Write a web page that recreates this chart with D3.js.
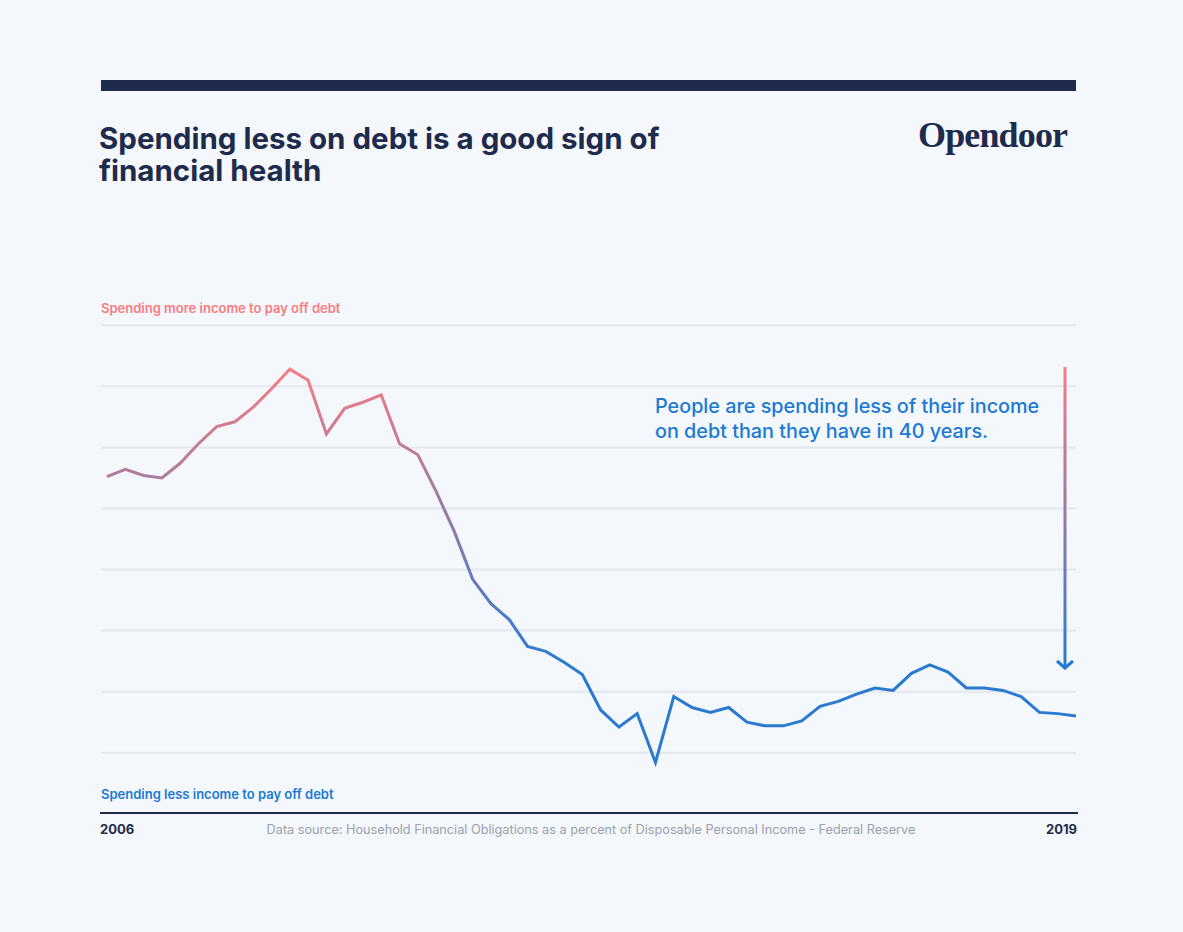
<!DOCTYPE html>
<html lang="en">
<head>
<meta charset="utf-8">
<title>Spending less on debt</title>
<script src="https://d3js.org/d3.v7.min.js"></script>
<style>
    body {
        margin: 0;
        background-color: #f4f7fb;
    }
    svg text {
        font-family: Inter, "Noto Sans", sans-serif;
    }
    .grid line {
        stroke: #e3e7ee;
        stroke-width: 2px;
    }
</style>
</head>
<body>
<svg id=chart width=1183 height=932></svg>
<script>
// household debt service, % of disposable income, quarterly 2006Q1 - 2019Q2
var startYear = 2006, endYear = 2019;
var ratio = [
    17.26, 17.32, 17.27, 17.25, 17.37, 17.53, 17.67, 17.71, 17.83, 17.98,
    18.14, 18.05, 17.61, 17.82, 17.87, 17.93, 17.53, 17.44, 17.14, 16.81,
    16.42, 16.22, 16.09, 15.87, 15.83, 15.74, 15.64, 15.35, 15.21, 15.32,
    14.92, 15.46, 15.37, 15.33, 15.37, 15.25, 15.22, 15.22, 15.26, 15.38,
    15.42, 15.48, 15.53, 15.51, 15.65, 15.72, 15.66, 15.53, 15.53, 15.51,
    15.46, 15.33, 15.32, 15.30
];
var gridVals = [15, 15.5, 16, 16.5, 17, 17.5, 18, 18.5];

var title = ["Spending less on debt is a good sign of", "financial health"];
var note = ["People are spending less of their income", "on debt than they have in 40 years."];
var topLabel = "Spending more income to pay off debt";
var bottomLabel = "Spending less income to pay off debt";
var source = "Data source: Household Financial Obligations as a percent of Disposable Personal Income - Federal Reserve";

var navy = "#1e2b4c", pink = "#fb7c80", blue = "#1a7ad4";

var svg = d3.select("#chart");

var x = d3.scaleLinear().domain([0, ratio.length - 1]).range([107, 1076]);
var y = d3.scaleLinear().domain([15, 18.5]).range([752.7, 325.3]);

// gradient shared by the line and the arrow
var defs = svg.append("defs");
var grad = defs.append("linearGradient")
    .attr("id", "pinkBlue")
    .attr("gradientUnits", "userSpaceOnUse")
    .attr("x1", 0).attr("x2", 0)
    .attr("y1", 365).attr("y2", 665);
grad.append("stop").attr("offset", "0%").attr("stop-color", pink);
grad.append("stop").attr("offset", "100%").attr("stop-color", "#2a7bd0");

// top bar
svg.append("rect")
    .attr("x", 101).attr("y", 80)
    .attr("width", 975).attr("height", 11)
    .attr("fill", navy);

// title
svg.append("text")
    .attr("x", 99).attr("y", 149)
    .attr("fill", navy)
    .style("font-size", "29.5px")
    .style("font-weight", 700)
    .selectAll("tspan").data(title).join("tspan")
    .attr("x", 99)
    .attr("dy", (d, i) => i ? 32 : 0)
    .text(d => d);

// logo
svg.append("text")
    .attr("x", 1068).attr("y", 147)
    .attr("text-anchor", "end")
    .attr("fill", navy)
    .attr("textLength", 150)
    .style("font-family", "'Liberation Serif', serif")
    .style("font-size", "36px")
    .style("font-weight", 700)
    .text("Opendoor");

// grid
svg.append("g").attr("class", "grid")
    .selectAll("line").data(gridVals).join("line")
    .attr("x1", 101).attr("x2", 1076)
    .attr("y1", d => y(d)).attr("y2", d => y(d));

svg.append("text")
    .attr("x", 101).attr("y", 313)
    .attr("fill", pink)
    .style("font-size", "13px")
    .style("font-weight", 600)
    .text(topLabel);

svg.append("text")
    .attr("x", 101).attr("y", 799)
    .attr("fill", blue)
    .style("font-size", "13px")
    .style("font-weight", 600)
    .text(bottomLabel);

// the series
var line = d3.line()
    .x((d, i) => x(i))
    .y(d => y(d));

svg.append("path")
    .datum(ratio)
    .attr("d", line)
    .attr("fill", "none")
    .attr("stroke", "url(#pinkBlue)")
    .attr("stroke-width", 3)
    .attr("stroke-linejoin", "miter");

// annotation
svg.append("text")
    .attr("fill", blue)
    .style("font-size", "19.8px")
    .style("font-weight", 500)
    .selectAll("tspan").data(note).join("tspan")
    .attr("x", 655)
    .attr("y", (d, i) => 413 + i * 25)
    .text(d => d);

var ax = 1065;
svg.append("rect")
    .attr("x", ax - 1.5).attr("y", 367)
    .attr("width", 3).attr("height", 302)
    .attr("fill", "url(#pinkBlue)");
svg.append("path")
    .attr("d", "M" + (ax - 8) + ",661L" + ax + ",668L" + (ax + 8) + ",661")
    .attr("fill", "none")
    .attr("stroke", "#1f7bd3")
    .attr("stroke-width", 3);

// x axis
svg.append("line")
    .attr("x1", 100).attr("x2", 1078)
    .attr("y1", 813).attr("y2", 813)
    .attr("stroke", navy)
    .attr("stroke-width", 2);

svg.append("text")
    .attr("x", 100).attr("y", 834)
    .attr("fill", navy)
    .style("font-size", "13px")
    .style("font-weight", 700)
    .text(startYear);

svg.append("text")
    .attr("x", 1077).attr("y", 834)
    .attr("text-anchor", "end")
    .attr("fill", navy)
    .style("font-size", "13px")
    .style("font-weight", 700)
    .text(endYear);

svg.append("text")
    .attr("x", 591).attr("y", 834)
    .attr("text-anchor", "middle")
    .attr("fill", "#9aa1ad")
    .style("font-size", "12.7px")
    .text(source);
</script>
</body>
</html>
